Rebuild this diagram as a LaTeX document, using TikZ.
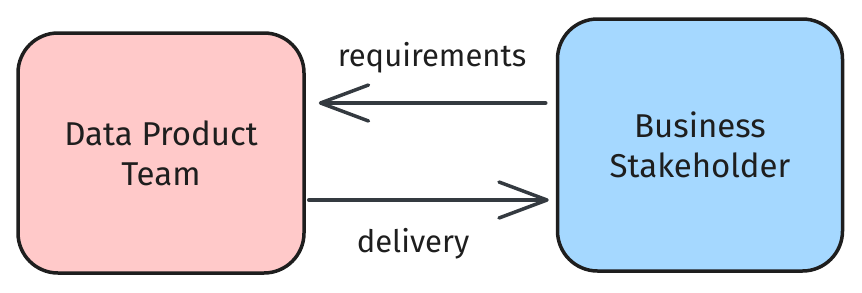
\documentclass[tikz,border=0pt]{standalone}
\usepackage{fontspec}
\setmainfont{Fira Sans}
\usetikzlibrary{arrows.meta}
\definecolor{teamfill}{HTML}{FFC9C9}
\definecolor{bizfill}{HTML}{A5D8FF}
\definecolor{inkline}{HTML}{1E1E1E}
\definecolor{arrowink}{HTML}{343A40}
\tikzset{
  actor/.style={draw=inkline,line width=3.5pt,rounded corners=40pt,align=center,
    font=\fontsize{33}{40}\selectfont,text=inkline},
  flow/.style={draw=arrowink,line width=3.5pt,line cap=round,
    -{Straight Barb[length=48pt,width=36pt,round]}},
  flowlabel/.style={font=\fontsize{31}{36}\selectfont,text=inkline}
}
\begin{document}
\begin{tikzpicture}[x=1pt,y=1pt]
\useasboundingbox (0,0) rectangle (862,-292);
% the two parties
\node[actor,fill=teamfill,minimum width=286pt,minimum height=240pt] (team) at (161,-153) {Data Product\\Team};
\node[actor,fill=bizfill,minimum width=285pt,minimum height=252pt] (biz) at (700,-145) {Business\\Stakeholder};

% what goes back and forth
\draw[flow] ([shift={(-10,42)}]biz.west) -- ([shift={(13,50)}]team.east);
\draw[flow] ([shift={(3,-47)}]team.east) -- ([shift={(-7,-55)}]biz.west);
\node[flowlabel] (req) at (432,-58) {requirements};
\node[flowlabel] (dlv) at (413,-244) {delivery};
\end{tikzpicture}
\end{document}
